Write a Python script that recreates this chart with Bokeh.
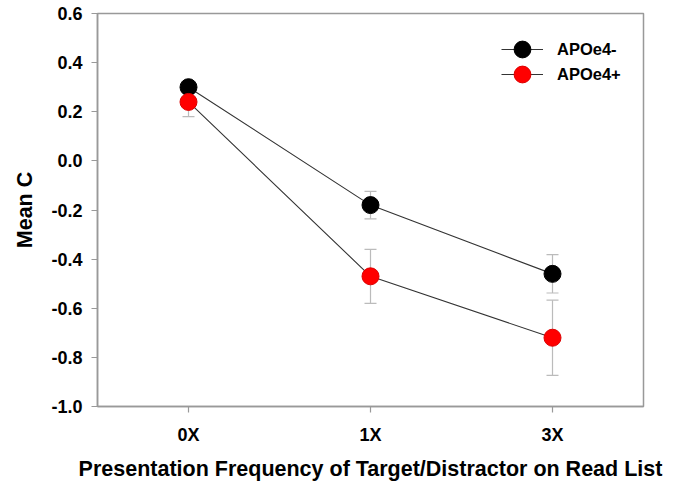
from bokeh.plotting import figure
from bokeh.models import ColumnDataSource, Whisker, TeeHead, FixedTicker, PrintfTickFormatter, Legend, LegendItem, Range1d
from bokeh.embed import file_html
from bokeh.resources import INLINE

categories = ["0X", "1X", "3X"]
neg_mean = [0.30, -0.18, -0.46]
neg_se = [0.02, 0.056, 0.078]
pos_mean = [0.24, -0.47, -0.72]
pos_se = [0.06, 0.11, 0.153]
y_ticks = [-1.0, -0.8, -0.6, -0.4, -0.2, 0.0, 0.2, 0.4, 0.6]

FONT = "Liberation Sans"
GRAY = "#999999"

p = figure(width=685, height=485, output_backend="svg", toolbar_location=None,
           x_range=Range1d(0.5, 3.5), y_range=Range1d(-1.0, 0.6),
           min_border_left=97, min_border_right=42, min_border_top=13, min_border_bottom=79)
p.background_fill_color = "white"
p.border_fill_color = "white"
p.outline_line_color = GRAY
p.outline_line_width = 1.5
p.xgrid.visible = False
p.ygrid.visible = False

xs = list(range(1, len(categories) + 1))

renderers = {}
for name, mean, se, fill, edge in [("APOe4-", neg_mean, neg_se, "black", "black"),
                                   ("APOe4+", pos_mean, pos_se, "#ff0000", "#dd0000")]:
    src = ColumnDataSource(dict(x=xs, y=mean,
                                upper=[m + s for m, s in zip(mean, se)],
                                lower=[m - s for m, s in zip(mean, se)]))
    lr = p.line("x", "y", source=src, line_color="#333333", line_width=1.1)
    w = Whisker(base="x", upper="upper", lower="lower", source=src,
                line_color="#bbbbbb", line_width=1.2,
                upper_head=TeeHead(size=12, line_color="#bbbbbb", line_width=1.2),
                lower_head=TeeHead(size=12, line_color="#bbbbbb", line_width=1.2))
    p.add_layout(w)
    sr = p.scatter("x", "y", source=src, size=17, fill_color=fill, line_color=edge, line_width=1)
    renderers[name] = (lr, sr)

for (name, rs), ly in zip(renderers.items(), [336, 311]):
    legend = Legend(items=[LegendItem(label=name, renderers=list(rs))], location=(404, ly))
    legend.border_line_color = None
    legend.background_fill_alpha = 0
    legend.label_text_font = FONT
    legend.label_text_font_style = "bold"
    legend.label_text_font_size = "16.5px"
    legend.label_text_color = "black"
    legend.glyph_width = 42
    legend.glyph_height = 42
    legend.spacing = 0
    legend.padding = 5
    legend.margin = 0
    legend.label_standoff = 14
    p.add_layout(legend)

for ax in (p.xaxis[0], p.yaxis[0]):
    ax.axis_line_color = GRAY
    ax.axis_line_width = 1.5
    ax.major_tick_line_color = GRAY
    ax.major_tick_line_width = 1.2
    ax.major_tick_out = 6
    ax.major_tick_in = 0
    ax.minor_tick_line_color = None
    ax.major_label_text_font = FONT
    ax.major_label_text_font_style = "bold"
    ax.major_label_text_font_size = "18px"
    ax.major_label_text_color = "black"
    ax.axis_label_text_font = FONT
    ax.axis_label_text_font_style = "bold"
    ax.axis_label_text_font_size = "21.5px"
    ax.axis_label_text_color = "black"

p.xaxis.ticker = FixedTicker(ticks=xs)
p.xaxis.major_label_overrides = {x: c for x, c in zip(xs, categories)}
p.xaxis.axis_label = "Presentation Frequency of Target/Distractor on Read List"
p.xaxis.major_label_standoff = 12
p.xaxis.axis_label_standoff = 9

p.yaxis.ticker = FixedTicker(ticks=y_ticks)
p.yaxis.formatter = PrintfTickFormatter(format="%.1f")
p.yaxis.axis_label = "Mean C"
p.yaxis.major_label_standoff = 9
p.yaxis.axis_label_standoff = 11

open("out.html", "w").write(file_html(p, INLINE))
